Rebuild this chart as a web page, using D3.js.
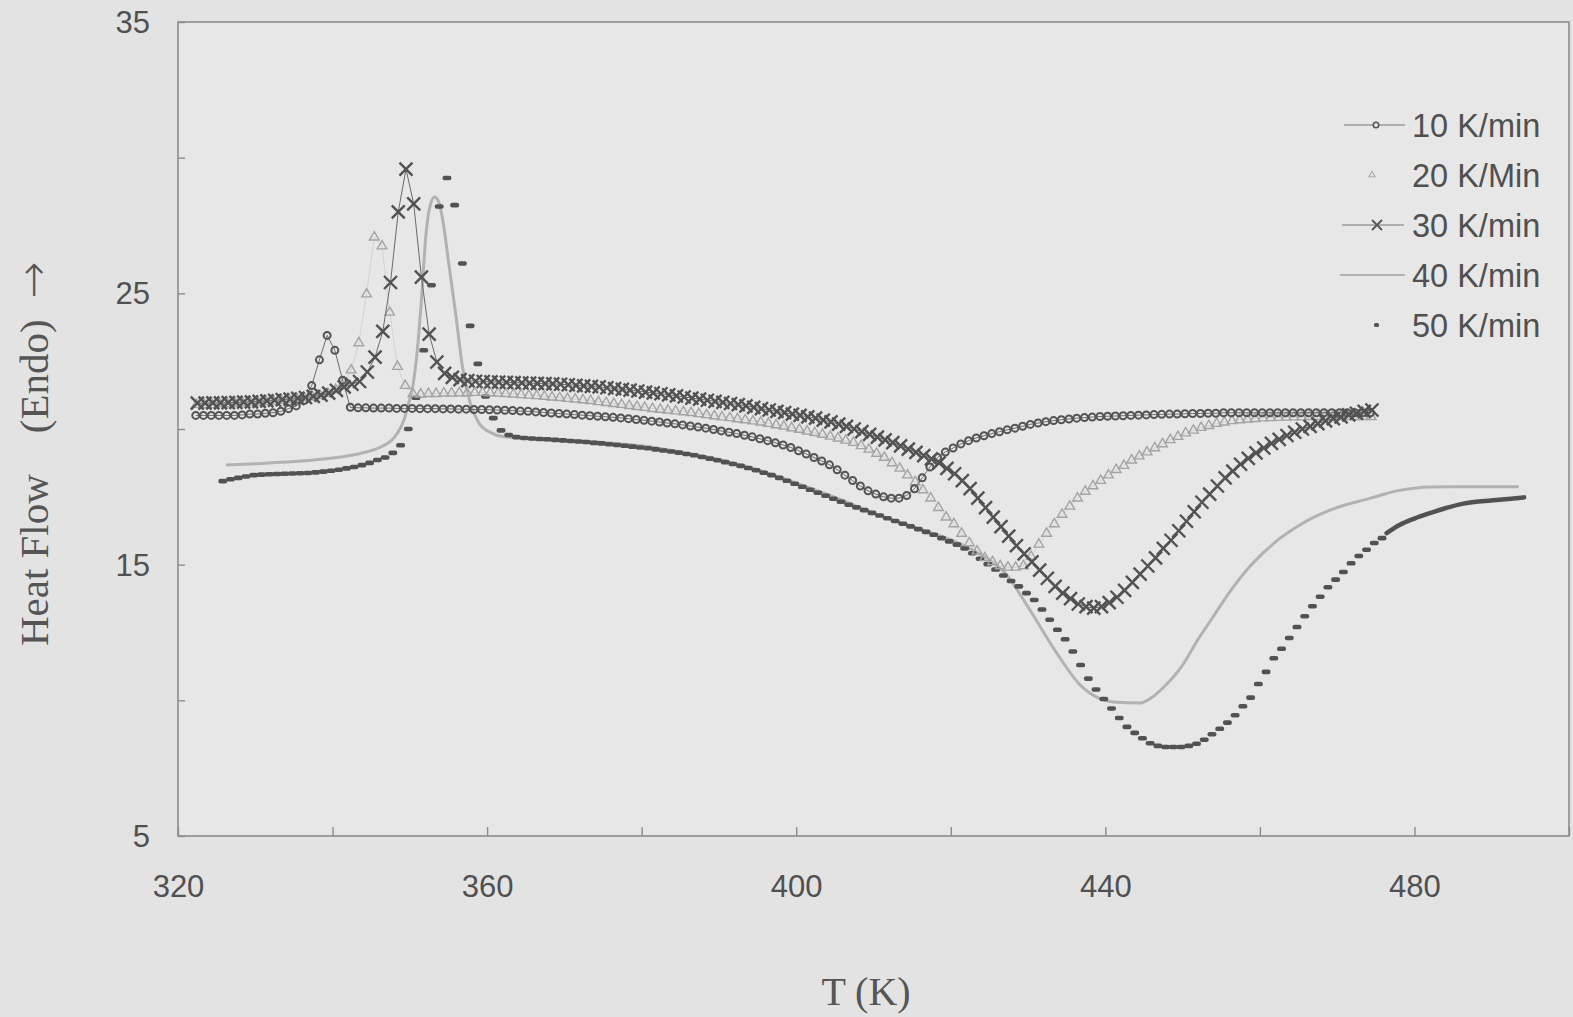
<!DOCTYPE html>
<html>
<head>
<meta charset="utf-8">
<script src="https://cdn.jsdelivr.net/npm/d3@7"></script>
<style>
  body { margin: 0; background: #e3e3e3; }
  svg { display: block; }
</style>
</head>
<body>
<div class="box"></div>
<script>
// DATA - heat flow, one reading every ~1 K
const step = 1;

// 10 K/min (circles)
const start10 = 322.3;
const rate10 = [
  20.5, 20.5, 20.5, 20.5, 20.5, 20.5, 20.52, 20.55, 20.55, 20.58,
  20.6, 20.65, 20.75, 20.85, 21.05, 21.6, 22.55, 23.45, 22.9, 21.8,
  20.8, 20.78, 20.78, 20.77, 20.77, 20.77, 20.76, 20.76, 20.76, 20.75,
  20.75, 20.75, 20.74, 20.74, 20.73, 20.73, 20.72, 20.72, 20.71, 20.7,
  20.69, 20.68, 20.66, 20.65, 20.63, 20.61, 20.59, 20.57, 20.55, 20.53,
  20.51, 20.49, 20.47, 20.45, 20.43, 20.41, 20.38, 20.35, 20.32, 20.29,
  20.26, 20.22, 20.19, 20.15, 20.11, 20.07, 20.03, 19.98, 19.93, 19.88,
  19.83, 19.77, 19.71, 19.64, 19.57, 19.49, 19.41, 19.32, 19.2, 19.08,
  18.95, 18.82, 18.68, 18.5, 18.3, 18.1, 17.9, 17.72, 17.6, 17.5,
  17.45, 17.45, 17.55, 17.8, 18.2, 18.6, 18.95, 19.15, 19.3, 19.45,
  19.57, 19.67, 19.75, 19.83, 19.9, 19.97, 20.03, 20.1, 20.17, 20.22,
  20.27, 20.31, 20.34, 20.37, 20.4, 20.42, 20.44, 20.46, 20.47, 20.48,
  20.49, 20.5, 20.51, 20.52, 20.53, 20.54, 20.55, 20.55, 20.56, 20.57,
  20.57, 20.58, 20.58, 20.6, 20.6, 20.6, 20.6, 20.6, 20.6, 20.6,
  20.6, 20.6, 20.6, 20.6, 20.6, 20.6, 20.6, 20.6, 20.6, 20.6,
  20.6, 20.6, 20.6
];

// 20 K/min (triangles)
const start20 = 322.4;
const rate20 = [
  20.9, 20.9, 20.9, 20.92, 20.92, 20.94, 20.95, 20.97, 20.98, 21.0,
  21.02, 21.05, 21.08, 21.1, 21.14, 21.18, 21.22, 21.3, 21.45, 21.7,
  22.17, 23.17, 24.97, 27.07, 26.74, 24.3, 22.3, 21.6, 21.3, 21.28,
  21.3, 21.3, 21.32, 21.32, 21.33, 21.33, 21.34, 21.34, 21.33, 21.32,
  21.3, 21.28, 21.26, 21.24, 21.22, 21.2, 21.17, 21.15, 21.12, 21.1,
  21.07, 21.04, 21.0, 20.97, 20.93, 20.9, 20.86, 20.82, 20.79, 20.75,
  20.72, 20.69, 20.66, 20.63, 20.6, 20.56, 20.52, 20.48, 20.44, 20.41,
  20.37, 20.33, 20.29, 20.25, 20.2, 20.15, 20.1, 20.04, 19.98, 19.92,
  19.86, 19.8, 19.73, 19.66, 19.58, 19.5, 19.38, 19.25, 19.1, 18.95,
  18.75, 18.55, 18.3, 18.05, 17.75, 17.45, 17.1, 16.75, 16.5, 16.15,
  15.8, 15.5, 15.25, 15.1, 14.95, 14.9, 14.9, 14.95, 15.3, 15.75,
  16.15, 16.5, 16.85, 17.15, 17.45, 17.7, 17.9, 18.1, 18.3, 18.5,
  18.65, 18.85, 19.0, 19.15, 19.3, 19.45, 19.6, 19.72, 19.85, 19.95,
  20.05, 20.12, 20.2, 20.25, 20.3, 20.33, 20.36, 20.38, 20.4, 20.41,
  20.42, 20.43, 20.44, 20.44, 20.45, 20.45, 20.45, 20.45, 20.45, 20.45,
  20.45, 20.45, 20.45
];

// 30 K/min (crosses)
const start30 = 322.5;
const rate30 = [
  20.95, 20.95, 20.96, 20.96, 20.97, 20.98, 20.99, 21.0, 21.02, 21.04,
  21.06, 21.08, 21.1, 21.13, 21.16, 21.2, 21.25, 21.32, 21.42, 21.55,
  21.65, 21.75, 22.1, 22.65, 23.6, 25.4, 28.0, 29.58, 28.3, 25.6,
  23.5, 22.47, 22.05, 21.9, 21.82, 21.78, 21.76, 21.75, 21.74, 21.73,
  21.72, 21.71, 21.7, 21.69, 21.68, 21.67, 21.66, 21.65, 21.63, 21.61,
  21.59, 21.57, 21.55, 21.52, 21.49, 21.46, 21.43, 21.4, 21.36, 21.33,
  21.3, 21.26, 21.22, 21.18, 21.14, 21.1, 21.06, 21.02, 20.98, 20.94,
  20.9, 20.85, 20.8, 20.75, 20.7, 20.65, 20.6, 20.55, 20.5, 20.45,
  20.4, 20.33, 20.26, 20.18, 20.1, 20.0, 19.9, 19.8, 19.7, 19.6,
  19.5, 19.38, 19.26, 19.14, 19.02, 18.9, 18.75, 18.55, 18.35, 18.1,
  17.8, 17.45, 17.1, 16.75, 16.4, 16.05, 15.7, 15.4, 15.1, 14.8,
  14.5, 14.2, 13.95, 13.75, 13.55, 13.45, 13.4, 13.45, 13.6, 13.8,
  14.05, 14.35, 14.65, 14.95, 15.25, 15.6, 15.9, 16.25, 16.6, 16.95,
  17.3, 17.6, 17.9, 18.2, 18.45, 18.7, 18.92, 19.12, 19.3, 19.47,
  19.62, 19.76, 19.88, 20.0, 20.1, 20.2, 20.3, 20.38, 20.45, 20.52,
  20.58, 20.65, 20.7
];

// 40 K/min (plain line) - [T, heat flow]
const rate40 = [
  [326.2, 18.67], [330, 18.72], [335, 18.8], [340, 18.93], [343.6, 19.1],
  [345.5, 19.25], [346.7, 19.4], [347.7, 19.6], [348.4, 19.85], [349.2, 20.3],
  [349.8, 20.9], [350.4, 21.6], [351, 23.0], [351.5, 24.75], [352.1, 27.2],
  [352.6, 28.2], [353.2, 28.55], [353.7, 28.4], [354.2, 27.8], [355.1, 25.97],
  [356, 24.1], [356.8, 22.3], [357.7, 21.07], [359, 20.2], [360.6, 19.85],
  [362, 19.72], [365, 19.65], [370, 19.58], [375, 19.5], [380, 19.38],
  [385, 19.15], [390, 18.88], [395, 18.5], [400, 18.0], [405, 17.48],
  [410, 16.9], [415, 16.4], [420, 15.92], [424, 15.35], [427, 14.7],
  [430.3, 13.3], [433.8, 11.7], [436.8, 10.55], [439, 10.1], [441, 9.94],
  [444.5, 9.9], [446, 10.1], [447.6, 10.5], [450, 11.3], [451.9, 12.2],
  [454, 13.1], [456.1, 14.0], [458.3, 14.8], [460.5, 15.45], [462.5, 15.95],
  [464.8, 16.4], [467, 16.75], [469, 17.0], [471, 17.2], [473.4, 17.38],
  [475.5, 17.55], [477.7, 17.72], [480, 17.82], [482, 17.86], [485, 17.87],
  [490, 17.87], [493.5, 17.87]
];

// 50 K/min (short dashes)
const start50 = 325.8;
const rate50 = [
  18.08, 18.15, 18.2, 18.25, 18.3, 18.32, 18.33, 18.34, 18.35, 18.36,
  18.37, 18.38, 18.4, 18.43, 18.46, 18.5, 18.55, 18.6, 18.67, 18.75,
  18.86, 18.95, 19.12, 19.4, 20.0, 21.15, 22.9, 25.3, 28.2, 29.25,
  28.25, 26.1, 23.8, 22.4, 21.2, 20.4, 19.95, 19.78, 19.7, 19.67,
  19.65, 19.63, 19.62, 19.6, 19.58, 19.56, 19.54, 19.52, 19.49, 19.47,
  19.44, 19.41, 19.38, 19.35, 19.32, 19.29, 19.25, 19.21, 19.17, 19.13,
  19.08, 19.03, 18.97, 18.91, 18.85, 18.78, 18.71, 18.64, 18.56, 18.48,
  18.39, 18.3, 18.2, 18.09, 17.98, 17.87, 17.76, 17.65, 17.54, 17.43,
  17.32, 17.21, 17.11, 17.01, 16.91, 16.81, 16.71, 16.61, 16.51, 16.41,
  16.31, 16.21, 16.1, 15.98, 15.86, 15.74, 15.6, 15.42, 15.22, 15.02,
  14.82, 14.6, 14.4, 14.2, 13.95, 13.7, 13.35, 12.97, 12.6, 12.25,
  11.8, 11.3, 10.8, 10.4, 10.05, 9.7, 9.35, 9.02, 8.8, 8.6,
  8.42, 8.32, 8.28, 8.28, 8.28, 8.32, 8.4, 8.55, 8.75, 8.95,
  9.18, 9.45, 9.78, 10.1, 10.6, 11.05, 11.55, 11.9, 12.3, 12.7,
  13.1, 13.47, 13.82, 14.17, 14.45, 14.73, 15.05, 15.32, 15.55, 15.8,
  15.98
];
// 50 K/min end, where the points run together into a thick line
const tail50 = [
  [476.4, 16.16], [478, 16.45], [480, 16.7], [482, 16.9], [484, 17.08],
  [486.3, 17.25], [488, 17.32], [490.6, 17.38], [492.5, 17.43], [494.2, 17.48]
];

const xTicks = [320, 340, 360, 380, 400, 420, 440, 460, 480, 500];
const xLabels = [320, 360, 400, 440, 480];
const yTicks = [5, 10, 15, 20, 25, 30, 35];
const yLabels = [5, 15, 25, 35];
const legendNames = ['10 K/min', '20 K/Min', '30 K/min', '40 K/min', '50 K/min'];

// SETUP
const W = 1573, H = 1017;
const plot = {left: 178, right: 1569, top: 22, bottom: 836};

const svg = d3.select('.box')
              .append('svg')
              .attr('width', W)
              .attr('height', H)
              .style('background', '#e3e3e3');

const x = d3.scaleLinear().domain([320, 500]).range([plot.left, plot.right]);
const y = d3.scaleLinear().domain([5, 35]).range([plot.bottom, plot.top]);

// plot area + frame
svg.append('rect')
   .attr('x', plot.left).attr('y', plot.top)
   .attr('width', plot.right - plot.left).attr('height', plot.bottom - plot.top)
   .attr('fill', '#e7e7e7')
   .attr('stroke', '#8c8c8c')
   .attr('stroke-width', 1.6);

// axes, ticks pointing inside
const axeX = d3.axisBottom(x)
               .tickValues(xTicks)
               .tickSize(-9)
               .tickPadding(39)
               .tickFormat(d => xLabels.includes(d) ? d : '');
const axeY = d3.axisLeft(y)
               .tickValues(yTicks)
               .tickSize(-7)
               .tickPadding(28)
               .tickFormat(d => yLabels.includes(d) ? d : '');

function styleAxis(g) {
  g.select('.domain').remove();
  g.selectAll('.tick line').attr('stroke', '#8c8c8c').attr('stroke-width', 1.4);
  g.selectAll('.tick text')
   .attr('fill', '#505050')
   .style('font-family', '"Liberation Sans", Arial, sans-serif')
   .style('font-size', '31px');
}

svg.append('g')
   .attr('transform', `translate(0, ${plot.bottom})`)
   .call(axeX)
   .call(styleAxis);
svg.append('g')
   .attr('transform', `translate(${plot.left}, 0)`)
   .call(axeY)
   .call(styleAxis)
   .selectAll('.tick text').attr('dy', '0.34em');

// axis titles
svg.append('text')
   .text('T (K)')
   .attr('x', 866).attr('y', 1005)
   .attr('text-anchor', 'middle')
   .attr('fill', '#555')
   .style('font-family', '"Liberation Serif", "Times New Roman", serif')
   .style('font-size', '40px');

const yTitle = svg.append('text')
   .attr('transform', 'translate(48, 454) rotate(-90)')
   .attr('text-anchor', 'middle')
   .attr('fill', '#555')
   .style('white-space', 'pre')
   .style('font-family', '"Liberation Serif", "Times New Roman", serif')
   .style('font-size', '41px');
yTitle.append('tspan').text('Heat Flow    (Endo)  ');
yTitle.append('tspan').text('\u2192')
      .style('font-family', '"DejaVu Sans", sans-serif')
      .style('font-weight', '300')
      .style('font-size', '44px');

// turn the value lists into points
const toPoints = (start, vals) => vals.map((v, i) => ({t: start + i * step, hf: v}));
const pts10 = toPoints(start10, rate10);
const pts20 = toPoints(start20, rate20);
const pts30 = toPoints(start30, rate30);
const pts50 = toPoints(start50, rate50);
const pts40 = rate40.map(d => ({t: d[0], hf: d[1]}));
const ptsTail = tail50.map(d => ({t: d[0], hf: d[1]}));

const line = d3.line().x(d => x(d.t)).y(d => y(d.hf));
const smooth = d3.line().x(d => x(d.t)).y(d => y(d.hf)).curve(d3.curveMonotoneX);

const marks = svg.append('g');

// 40 K/min - light grey line
marks.append('path')
     .attr('d', smooth(pts40))
     .attr('fill', 'none')
     .attr('stroke', '#b2b2b2')
     .attr('stroke-width', 3);

// 50 K/min - dashes
marks.append('g').selectAll('rect')
     .data(pts50)
     .enter()
     .append('rect')
     .attr('x', d => x(d.t) - 4.5)
     .attr('y', d => y(d.hf) - 2.3)
     .attr('width', 9)
     .attr('height', 4.6)
     .attr('rx', 2.2)
     .attr('fill', '#525252');
marks.append('path')
     .attr('d', smooth(ptsTail))
     .attr('fill', 'none')
     .attr('stroke', '#525252')
     .attr('stroke-width', 4.5)
     .attr('stroke-linecap', 'round');

// 20 K/min - hollow triangles
marks.append('path')
     .attr('d', line(pts20))
     .attr('fill', 'none')
     .attr('stroke', '#cdcdcd')
     .attr('stroke-width', 0.8);
const tri = d3.symbol().type(d3.symbolTriangle).size(40);
marks.append('g').selectAll('path')
     .data(pts20)
     .enter()
     .append('path')
     .attr('d', tri)
     .attr('transform', d => `translate(${x(d.t)}, ${y(d.hf)})`)
     .attr('fill', 'none')
     .attr('stroke', '#a4a4a4')
     .attr('stroke-width', 1.4);

// 10 K/min - circles with thin line
marks.append('path')
     .attr('d', line(pts10))
     .attr('fill', 'none')
     .attr('stroke', '#6a6a6a')
     .attr('stroke-width', 1);
marks.append('g').selectAll('circle')
     .data(pts10)
     .enter()
     .append('circle')
     .attr('cx', d => x(d.t))
     .attr('cy', d => y(d.hf))
     .attr('r', 3.5)
     .attr('fill', 'none')
     .attr('stroke', '#545454')
     .attr('stroke-width', 2);

// 30 K/min - crosses with thin line
marks.append('path')
     .attr('d', line(pts30))
     .attr('fill', 'none')
     .attr('stroke', '#6a6a6a')
     .attr('stroke-width', 1);
marks.append('g').selectAll('path')
     .data(pts30)
     .enter()
     .append('path')
     .attr('d', 'M-6.5,-6.5L6.5,6.5M-6.5,6.5L6.5,-6.5')
     .attr('transform', d => `translate(${x(d.t)}, ${y(d.hf)})`)
     .attr('stroke', '#525252')
     .attr('stroke-width', 2.4);

// LEGEND
const legend = svg.append('g');
const rows = legend.selectAll('g')
                   .data(legendNames)
                   .enter()
                   .append('g')
                   .attr('transform', (d, i) => `translate(0, ${125 + i * 50})`);

rows.append('text')
    .text(d => d)
    .attr('x', 1412)
    .attr('dy', '0.36em')
    .attr('fill', '#505050')
    .style('font-family', '"Liberation Sans", Arial, sans-serif')
    .style('font-size', '32.5px');

const r10 = rows.filter((d, i) => i === 0);
r10.append('line').attr('x1', 1344).attr('x2', 1405).attr('stroke', '#777').attr('stroke-width', 1.2);
r10.append('circle').attr('cx', 1376).attr('r', 2.7).attr('fill', '#e7e7e7').attr('stroke', '#555').attr('stroke-width', 1.6);

rows.filter((d, i) => i === 1).append('path')
    .attr('d', d3.symbol().type(d3.symbolTriangle).size(16))
    .attr('transform', 'translate(1372, 0)')
    .attr('fill', 'none').attr('stroke', '#aaa').attr('stroke-width', 1.1);

const r30 = rows.filter((d, i) => i === 2);
r30.append('line').attr('x1', 1342).attr('x2', 1404).attr('stroke', '#777').attr('stroke-width', 1.2);
r30.append('path').attr('d', 'M-5,-5L5,5M-5,5L5,-5').attr('transform', 'translate(1377, 0)')
   .attr('stroke', '#555').attr('stroke-width', 1.8);

rows.filter((d, i) => i === 3).append('line')
    .attr('x1', 1340).attr('x2', 1405).attr('stroke', '#b2b2b2').attr('stroke-width', 2);

rows.filter((d, i) => i === 4).append('rect')
    .attr('x', 1374).attr('y', -2).attr('width', 5).attr('height', 4).attr('rx', 1.5)
    .attr('fill', '#555');
</script>
</body>
</html>
